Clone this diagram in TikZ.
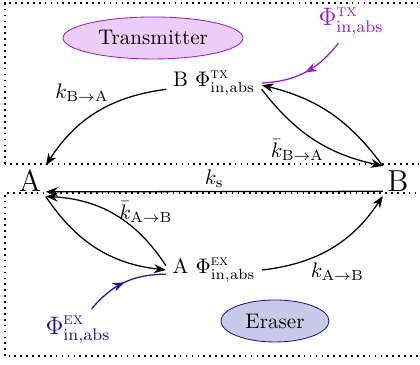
\documentclass[tikz,border=0pt]{standalone}
\usepackage{amsmath}
\usetikzlibrary{arrows.meta,shapes.geometric,decorations.markings}
\definecolor{txcol}{HTML}{9A1FD0}
\definecolor{txfill}{HTML}{EBCDF5}
\definecolor{excol}{HTML}{1A1A9A}
\definecolor{exfill}{HTML}{C9C9E8}

\begin{document}
\begin{tikzpicture}[
  state/.style={font=\Large,inner sep=2pt},
  species/.style={inner sep=3pt},
  region/.style={draw,dotted,line width=0.8pt},
  tag/.style={ellipse,draw,minimum height=0.7cm,inner sep=1pt},
  flux/.style={semithick,decoration={markings,mark=at position 0.5 with {\arrow{Stealth}}},postaction={decorate}},
  >=Stealth]
  \clip (0,0) rectangle (7,6.083);
  % the two compartments
  \draw[region] (0.083,3.35) rectangle (7.3,6.033);
  \draw[region] (0.083,0.15) rectangle (7.3,2.867);

  \node[state] (A) at (0.5,3.067) {A};
  \node[state] (B) at (6.633,3.067) {B};
  \node[species] (BT) at (3.567,4.7) {B $\Phi^{\textsc{tx}}_{\mathrm{in,abs}}$};
  \node[species] (AE) at (3.567,1.583) {A $\Phi^{\textsc{ex}}_{\mathrm{in,abs}}$};
  \node[tag,draw=txcol,fill=txfill,minimum width=3cm] (tx) at (2.55,5.45) {Transmitter};
  \node[tag,draw=excol,fill=exfill,minimum width=1.8cm] (ex) at (4.583,0.733) {Eraser};
  \node[text=txcol,font=\large] (phitx) at (5.85,5.72) {$\Phi^{\textsc{tx}}_{\mathrm{in,abs}}$};
  \node[text=excol,font=\large] (phiex) at (1.3,0.58) {$\Phi^{\textsc{ex}}_{\mathrm{in,abs}}$};

  % rates
  \draw[->,semithick] (B.base west) -- node[above,inner sep=1.5pt]{$k_{\mathrm{s}}$} (A.base east);
  \draw[->,semithick] ([yshift=-3pt]BT.west) to[bend right=25] node[pos=0.38,anchor=south east,inner sep=1pt]{$k_{\mathrm{B\to A}}$} (A.north east);
  \draw[->,semithick] (B.north west) to[bend right=20] ([yshift=-1pt]BT.east);
  \draw[->,semithick] ([yshift=-3pt]BT.east) to[bend right=20] node[pos=0.55,anchor=north east,inner sep=0pt,xshift=2pt,yshift=2pt]{$\bar{k}_{\mathrm{B\to A}}$} (B.north west);
  \draw[->,semithick] (A.south east) to[bend right=25] (AE.west);
  \draw[->,semithick] ([yshift=2pt]AE.west) to[bend right=27] node[pos=0.45,above right,inner sep=1pt,xshift=-2pt,yshift=-3pt]{$\bar{k}_{\mathrm{A\to B}}$} (A.south east);
  \draw[->,semithick] (AE.east) to[bend right=25] node[pos=0.55,below=5pt]{$k_{\mathrm{A\to B}}$} (B.south west);

  % absorbed light
  \draw[flux,color=txcol] (phitx) to[bend left=25] (BT.east);
  \draw[flux,color=excol] (phiex) to[bend left=25] ([yshift=-2pt]AE.west);
\end{tikzpicture}
\end{document}
